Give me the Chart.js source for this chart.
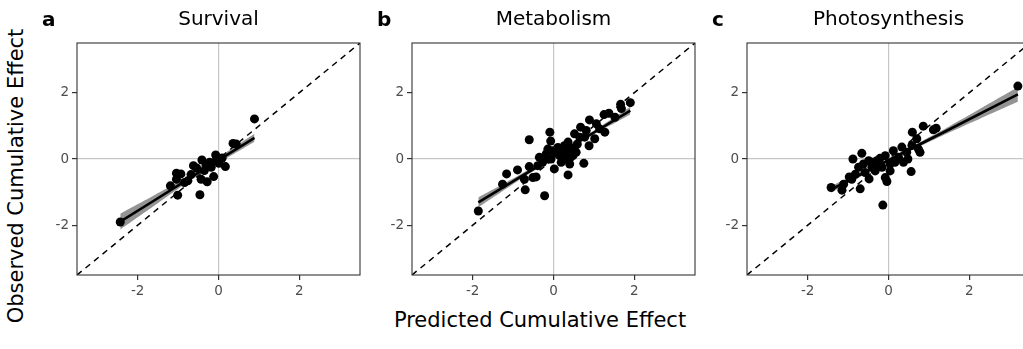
<!DOCTYPE html>
<html>
<head>
<meta charset="utf-8">
<script src="https://cdn.jsdelivr.net/npm/chart.js@4.4.1/dist/chart.umd.min.js"></script>
<style>
  html, body { margin: 0; padding: 0; background: #fff; }
  body { width: 1023px; height: 349px; position: relative; overflow: hidden; }
  canvas { position: absolute; top: 0; }
  .axtitle { position: absolute; font-family: 'DejaVu Sans', sans-serif; font-size: 21px; line-height: 1; color: #000; white-space: nowrap; }
</style>
</head>
<body>
<canvas id="panelA" width="335" height="300" style="left:30px"></canvas>
<canvas id="panelB" width="335" height="300" style="left:365px"></canvas>
<canvas id="panelC" width="335" height="300" style="left:700px"></canvas>
<div class="axtitle" style="left:16px; top:176px; transform: translate(-50%,-50%) rotate(-90deg);">Observed Cumulative Effect</div>
<div class="axtitle" style="left:540px; top:320px; transform: translate(-50%,-50%);">Predicted Cumulative Effect</div>

<script>
/* Tick positions and shared limits */
const tickValues = [-2, 0, 2];
const axisMin = -3.5;
const axisMax = 3.5;
const diagX = [-3.5, 3.5];
const diagY = [-3.5, 3.5];

/* a: Survival */
const survivalX = [-2.43, 0.89, 0.36, 0.44, -0.07, 0.09, 0.17, -0.12, -0.28, -0.46, -1.01, -1.19, -1.04, -0.93, -1.04, -0.76, -0.68, -0.62, -0.41, -0.43, -0.31, -0.22, -0.18, -0.06, 0.01, -0.54, -0.84, -0.35];
const survivalY = [-1.90, 1.21, 0.47, 0.45, 0.12, 0.03, -0.23, -0.53, -0.69, -1.08, -1.09, -0.81, -0.43, -0.45, -0.61, -0.66, -0.47, -0.20, -0.03, -0.61, -0.20, -0.10, -0.25, -0.05, -0.13, -0.27, -0.71, -0.35];
const survivalFitX = [-2.43, -1.6, -0.7, 0.1, 0.89];
const survivalFitY = [-1.89, -1.26, -0.57, 0.04, 0.64];
const survivalLo = [-2.13, -1.42, -0.65, -0.05, 0.52];
const survivalHi = [-1.65, -1.10, -0.49, 0.13, 0.76];

/* b: Metabolism */
const metabolismX = [-1.86, -1.26, -1.16, -0.89, -0.70, -0.72, -0.60, -0.60, -0.43, -0.35, -0.22, -0.09, -0.07, 0.02, 0.36, 0.75, -0.27, -0.18, -0.14, -0.02, 0.11, 0.19, 0.27, 0.36, 0.44, 0.52, 0.59, 0.67, 0.77, 0.89, 0.88, 1.02, 1.06, 1.27, 1.25, 1.37, 1.52, 1.66, 1.68, 1.90, 0.36, 0.27, 0.15, 0.48, 0.56, 0.40, 0.19, -0.06, 0.07, 0.31, 0.65, 0.81, -0.39, -0.51, -0.14, 0.52, 0.42, 1.14];
const metabolismY = [-1.57, -0.76, -0.45, -0.33, -0.93, -0.61, 0.58, -0.23, -0.54, 0.05, -1.11, 0.81, 0.54, -0.30, -0.48, -0.13, -0.10, 0.15, 0.30, 0.25, 0.35, 0.15, 0.40, 0.51, 0.25, 0.76, 0.45, 0.96, 0.66, 1.18, 0.40, 0.61, 1.06, 0.81, 1.34, 1.38, 1.26, 1.65, 1.52, 1.70, 0.05, 0.00, 0.10, 0.10, 0.20, -0.15, -0.10, 0.00, 0.20, 0.25, 0.66, 0.86, -0.20, -0.56, 0.00, 0.35, 0.05, 0.91];
const metabolismFitX = [-1.86, -0.9, 0.1, 1.0, 1.9];
const metabolismFitY = [-1.31, -0.60, 0.13, 0.80, 1.46];
const metabolismLo = [-1.46, -0.68, 0.08, 0.74, 1.34];
const metabolismHi = [-1.16, -0.52, 0.18, 0.86, 1.58];

/* c: Photosynthesis */
const photoX = [3.20, -1.42, -1.15, -1.11, -0.97, -0.88, -0.66, -0.70, -0.48, -0.14, -0.08, -0.04, 0.56, 0.59, 0.86, 1.11, 1.18, -0.49, -0.74, -0.62, -0.41, -0.29, -0.21, -0.16, -0.08, 0.04, 0.12, 0.25, 0.33, 0.48, 0.45, 0.58, 0.70, 0.74, 0.78, -0.82, -0.58, -0.33, 0.04, 0.16, 0.37, -0.91, -0.25, -0.41];
const photoY = [2.20, -0.86, -0.94, -0.76, -0.54, 0.00, 0.17, -0.90, -0.60, -1.39, -0.56, -0.68, -0.38, 0.81, 0.99, 0.88, 0.93, -0.05, -0.25, -0.15, -0.25, -0.05, 0.02, -0.25, 0.10, -0.15, 0.25, 0.05, 0.36, 0.00, 0.20, 0.41, 0.61, 0.30, 0.20, -0.46, -0.41, -0.36, -0.36, -0.10, -0.10, -0.61, -0.15, -0.10];
const photoFitX = [-1.42, -0.5, 0.3, 1.5, 3.2];
const photoFitY = [-0.92, -0.35, 0.15, 0.89, 1.95];
const photoLo = [-1.02, -0.41, 0.10, 0.80, 1.73];
const photoHi = [-0.82, -0.29, 0.20, 0.98, 2.17];

const FONT = "'DejaVu Sans', sans-serif";

function toPoints(xs, ys) {
  return xs.map((x, i) => ({ x: x, y: ys[i] }));
}

/* border box, panel letter and title */
const panelDecor = {
  id: 'panelDecor',
  afterDraw(chart, args, opts) {
    const ctx = chart.ctx;
    const a = chart.chartArea;
    ctx.save();
    ctx.strokeStyle = '#333333';
    ctx.lineWidth = 1.1;
    ctx.strokeRect(a.left, a.top, a.right - a.left, a.bottom - a.top);
    ctx.fillStyle = '#000';
    ctx.textBaseline = 'middle';
    ctx.textAlign = 'left';
    ctx.font = 'bold 20px ' + FONT;
    ctx.fillText(opts.tag, 12, 21);
    ctx.textAlign = 'center';
    ctx.font = '20px ' + FONT;
    ctx.fillText(opts.title, (a.left + a.right) / 2, 20);
    ctx.restore();
  }
};

function axis(isX) {
  return {
    type: 'linear',
    min: axisMin,
    max: axisMax,
    afterBuildTicks: (s) => { s.ticks = tickValues.map(v => ({ value: v })); },
    afterFit: (s) => { if (isX) s.height = 25; else s.width = 47; },
    border: { display: false },
    grid: {
      color: (c) => (c.tick && c.tick.value === 0) ? '#c6c6c6' : 'rgba(0,0,0,0)',
      lineWidth: 1.2,
      tickColor: '#333333',
      tickLength: 5,
      drawTicks: true
    },
    ticks: {
      color: '#4d4d4d',
      font: { family: FONT, size: 13.5 },
      padding: 3
    }
  };
}

function makePanel(id, tag, title, xs, ys, fitX, fitY, lo, hi) {
  const ctx = document.getElementById(id).getContext('2d');
  return new Chart(ctx, {
    type: 'scatter',
    data: {
      datasets: [
        { // regression line
          type: 'line', data: toPoints(fitX, fitY), borderColor: '#000', borderWidth: 2.6,
          pointRadius: 0, fill: false, tension: 0, order: 0
        },
        { // observations
          data: toPoints(xs, ys), backgroundColor: '#000', borderWidth: 0,
          pointRadius: 4.5, pointHoverRadius: 4.5, order: 1
        },
        { // ribbon upper
          type: 'line', data: toPoints(fitX, hi), borderWidth: 0, borderColor: 'rgba(0,0,0,0)',
          pointRadius: 0, fill: false, tension: 0.2, order: 2
        },
        { // ribbon lower, filled up to previous
          type: 'line', data: toPoints(fitX, lo), borderWidth: 0, borderColor: 'rgba(0,0,0,0)',
          backgroundColor: 'rgba(60,60,60,0.55)', pointRadius: 0, fill: '-1', tension: 0.2, order: 2
        },
        { // 1:1 line
          type: 'line', data: toPoints(diagX, diagY), borderColor: '#000', borderWidth: 1.5,
          borderDash: [6, 5], pointRadius: 0, fill: false, order: 3
        }
      ]
    },
    options: {
      responsive: false,
      animation: false,
      devicePixelRatio: 1,
      layout: { padding: { top: 43, right: 5, bottom: 0, left: 0 } },
      plugins: {
        legend: { display: false },
        tooltip: { enabled: false },
        panelDecor: { tag: tag, title: title }
      },
      scales: { x: axis(true), y: axis(false) }
    },
    plugins: [panelDecor]
  });
}

makePanel('panelA', 'a', 'Survival', survivalX, survivalY, survivalFitX, survivalFitY, survivalLo, survivalHi);
makePanel('panelB', 'b', 'Metabolism', metabolismX, metabolismY, metabolismFitX, metabolismFitY, metabolismLo, metabolismHi);
makePanel('panelC', 'c', 'Photosynthesis', photoX, photoY, photoFitX, photoFitY, photoLo, photoHi);
</script>
</body>
</html>
